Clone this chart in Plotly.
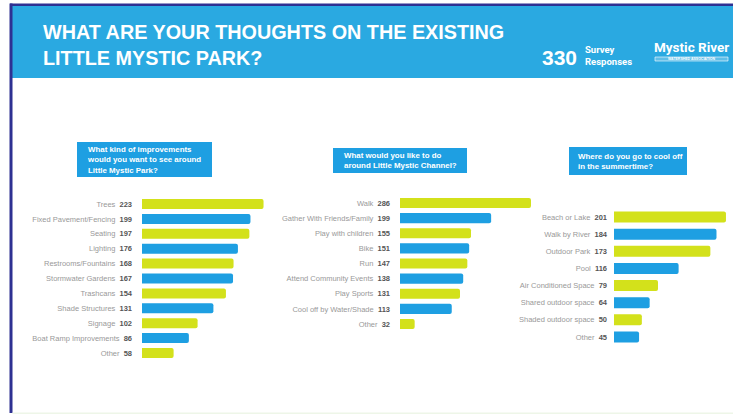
import plotly.graph_objects as go

W, H = 733, 416

# ---- data ----
q1_title = "What kind of improvements<br>would you want to see around<br>Little Mystic Park?"
q1_cats = ["Trees", "Fixed Pavement/Fencing", "Seating", "Lighting", "Restrooms/Fountains",
           "Stormwater Gardens", "Trashcans", "Shade Structures", "Signage",
           "Boat Ramp Improvements", "Other"]
q1_vals = [223, 199, 197, 176, 168, 167, 154, 131, 102, 86, 58]

q2_title = "What would you like to do<br>around Little Mystic Channel?"
q2_cats = ["Walk", "Gather With Friends/Family", "Play with children", "Bike", "Run",
           "Attend Community Events", "Play Sports", "Cool off by Water/Shade", "Other"]
q2_vals = [286, 199, 155, 151, 147, 138, 131, 113, 32]

q3_title = "Where do you go to cool off<br>in the summertime?"
q3_cats = ["Beach or Lake", "Walk by River", "Outdoor Park", "Pool", "Air Conditioned Space",
           "Shared outdoor space", "Shaded outdoor space", "Other"]
q3_vals = [201, 184, 173, 116, 79, 64, 50, 45]

header_line1 = "WHAT ARE YOUR THOUGHTS ON THE EXISTING"
header_line2 = "LITTLE MYSTIC PARK?"
responses = "330"

YELLOW = "#D3E11B"
BLUE = "#1E9FE2"
HEADER = "#2AA9E1"
NAVY = "#2E3192"


def px(x):
    return x / W


def py(y):
    return 1 - y / H


fig = go.Figure()

panels = [
    (q1_cats, q1_vals, 142, 0.545, 230, 204, 353, 0.67, q1_title, (77, 142, 212, 177), 85),
    (q2_cats, q2_vals, 400, 0.458, 290, 203, 324, 0.67, q2_title, (333, 148, 467, 173), 342),
    (q3_cats, q3_vals, 614, 0.557, 210, 217, 337, 0.64, q3_title, (569, 147, 687, 175), 576),
]

shapes = []
annotations = []

for i, (cats, vals, x0, scale, rmax, ytop, ybot, bw, title, box, tx) in enumerate(panels):
    n = len(cats)
    sp = (ybot - ytop) / (n - 1)
    xa = "x" if i == 0 else f"x{i+1}"
    ya = "y" if i == 0 else f"y{i+1}"
    colors = [YELLOW if k % 2 == 0 else BLUE for k in range(n)]
    fig.add_trace(go.Bar(
        x=vals, y=cats, orientation="h", marker=dict(color=colors, line=dict(width=0)),
        width=[bw] * n, xaxis=xa, yaxis=ya, showlegend=False, hoverinfo="skip",
    ))
    ticktext = [f"<span style='color:#999999'>{c}</span>  <b>{v}</b>" for c, v in zip(cats, vals)]
    xkey = "xaxis" if i == 0 else f"xaxis{i+1}"
    ykey = "yaxis" if i == 0 else f"yaxis{i+1}"
    fig.update_layout(**{
        xkey: dict(domain=[px(x0), px(x0 + scale * rmax)], range=[0, rmax], visible=False,
                   anchor=ya, fixedrange=True),
        ykey: dict(domain=[py(ybot + sp / 2), py(ytop - sp / 2)], anchor=xa,
                   categoryorder="array", categoryarray=cats, autorange="reversed",
                   tickmode="array", tickvals=cats, ticktext=ticktext,
                   tickfont=dict(family="Liberation Sans", size=7.5, color="#555555"),
                   showgrid=False, zeroline=False, showline=False, ticks="",
                   ticklabelstandoff=9 if i < 2 else 6),
    })
    bx0, by0, bx1, by1 = box
    shapes.append(dict(type="rect", xref="paper", yref="paper",
                       x0=px(bx0), x1=px(bx1), y0=py(by1), y1=py(by0),
                       fillcolor=BLUE, line=dict(width=0), layer="below"))
    annotations.append(dict(text=f"<b>{title}</b>", xref="paper", yref="paper",
                            x=px(tx), y=py((by0 + by1) / 2), xanchor="left", yanchor="middle",
                            align="left", showarrow=False,
                            font=dict(family="Liberation Sans", size=7.9, color="white")))

shapes += [
    dict(type="rect", xref="paper", yref="paper", x0=px(10), x1=1, y0=py(78), y1=py(6),
         fillcolor=HEADER, line=dict(width=0), layer="below"),
    dict(type="rect", xref="paper", yref="paper", x0=px(10), x1=1, y0=py(6), y1=py(3.5),
         fillcolor=NAVY, line=dict(width=0)),
    dict(type="rect", xref="paper", yref="paper", x0=px(9.5), x1=px(12.5), y0=py(413), y1=py(3.5),
         fillcolor=NAVY, line=dict(width=0)),
    dict(type="rect", xref="paper", yref="paper", x0=px(12.5), x1=1, y0=py(414), y1=py(412.5),
         fillcolor="#EEF6E8", line=dict(width=0)),
    dict(type="rect", xref="paper", yref="paper", x0=px(655), x1=px(728), y0=py(61), y1=py(57),
         fillcolor="rgba(255,255,255,0.25)", line=dict(width=0.6, color="white")),
]

annotations += [
    dict(text=f"<b>{header_line1}</b>", xref="paper", yref="paper", x=px(41), y=py(32),
         xanchor="left", yanchor="middle", showarrow=False,
         font=dict(family="Liberation Sans", size=19.8, color="white")),
    dict(text=f"<b>{header_line2}</b>", xref="paper", yref="paper", x=px(41), y=py(58),
         xanchor="left", yanchor="middle", showarrow=False,
         font=dict(family="Liberation Sans", size=19.8, color="white")),
    dict(text=f"<b>{responses}</b>", xref="paper", yref="paper", x=px(540), y=py(57),
         xanchor="left", yanchor="middle", showarrow=False,
         font=dict(family="Liberation Sans", size=21, color="white")),
    dict(text="<b>Survey<br>Responses</b>", xref="paper", yref="paper", x=px(583), y=py(56),
         xanchor="left", yanchor="middle", showarrow=False, align="left",
         font=dict(family="Roboto", size=9.5, color="white")),
    dict(text="<b>Mystic River</b>", xref="paper", yref="paper", x=px(652), y=py(47),
         xanchor="left", yanchor="middle", showarrow=False,
         font=dict(family="Roboto", size=13.5, color="white")),
    dict(text="<b>WATERSHED ASSOCIATION</b>", xref="paper", yref="paper", x=px(691), y=py(59),
         xanchor="center", yanchor="middle", showarrow=False,
         font=dict(family="Liberation Sans", size=3.5, color="white")),
]

fig.update_layout(
    width=W, height=H, margin=dict(l=0, r=0, t=0, b=0),
    paper_bgcolor="white", plot_bgcolor="rgba(0,0,0,0)",
    barcornerradius=2, shapes=shapes, annotations=annotations,
)

fig.write_html("out.html", config={"displayModeBar": False},
               post_script="document.body.style.margin='0';document.body.style.overflow='hidden';")
